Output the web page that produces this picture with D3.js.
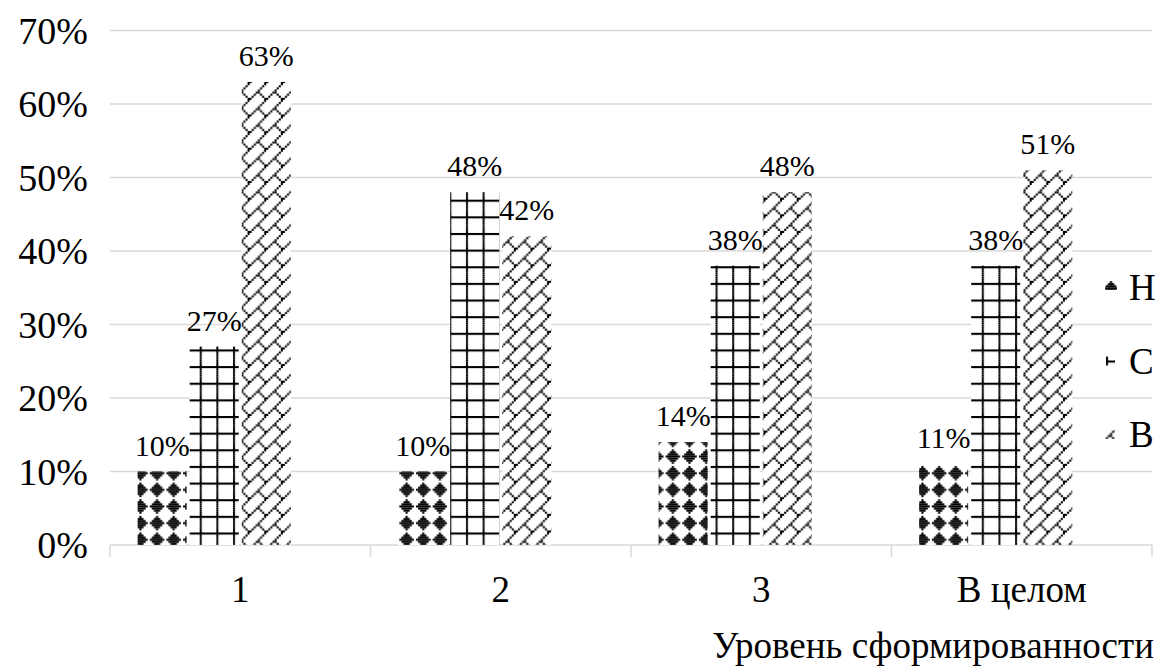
<!DOCTYPE html>
<html><head><meta charset="utf-8">
<script src="https://cdn.jsdelivr.net/npm/d3@7"></script>
<style>
body{margin:0;background:#fff;}
svg text{font-family:"Liberation Serif","Times New Roman",serif !important;fill:#000;}
</style>
</head><body>
<svg id="chart" width="1158" height="668" font-family="Liberation Serif"></svg>
<script>
// ---- data ----
const categories = ["1", "2", "3", "В целом"];
const seriesNames = ["Н", "С", "В"];
const valuesN = [0.10, 0.10, 0.14, 0.11];
const valuesS = [0.27, 0.48, 0.38, 0.38];
const valuesV = [0.63, 0.42, 0.48, 0.51];
const yTicks = [0, 0.1, 0.2, 0.3, 0.4, 0.5, 0.6, 0.7];
const axisTitle = "Уровень сформированности";

const seriesValues = [valuesN, valuesS, valuesV];
const patternIds = ["pN", "pS", "pV"];

// ---- layout ----
const svg = d3.select("#chart");
const L = 110, R = 1152, T = 30.5, B = 545;
const x0 = d3.scaleBand().domain(categories).range([L, R]);
// Excel reserved a fourth (empty) slot in each group
const x1 = d3.scaleBand().domain([...seriesNames, "_slot"]).range([0, x0.bandwidth()])
  .paddingInner(0.058).paddingOuter(0.53);
const y = d3.scaleLinear().domain([0, 0.7]).range([B, T]);
const fmt = d3.format(".0%");

// ---- patterns ----
const s = 2.08, tile = 8 * s;
const defs = svg.append("defs");
function pixelPattern(id, pixels, ox, oy, bg) {
  const p = defs.append("pattern").attr("id", id).attr("patternUnits", "userSpaceOnUse")
    .attr("width", tile).attr("height", tile).attr("x", ox || 0).attr("y", oy || 0);
  p.append("rect").attr("width", tile).attr("height", tile).attr("fill", bg || "#fff");
  p.selectAll("rect.px").data(pixels).join("rect").attr("class", "px")
    .attr("x", d => d[0] * s).attr("y", d => d[1] * s)
    .attr("width", d => (d[2] || 1) * s).attr("height", s).attr("fill", "#000");
  return p;
}
// solid diamond
const diamond = [[3,0,1],[2,1,3],[1,2,5],[0,3,7],[1,4,5],[2,5,3],[3,6,1]];
// large grid
const grid = [[0,0,8],[0,1],[0,2],[0,3],[0,4],[0,5],[0,6],[0,7]];
// diagonal brick (mirrored)
const brick = [[7,0],[6,1],[5,2],[4,3],[3,4],[4,4],[2,5],[5,5],[1,6],[6,6],[0,7],[7,7]];
const pixelSets = [diamond, grid, brick];
pixelSets.forEach((px, i) => pixelPattern(patternIds[i], px));

// ---- gridlines & axis ----
svg.append("g").selectAll("line").data(yTicks.filter(d => d > 0)).join("line")
  .attr("x1", L).attr("x2", R).attr("y1", d => y(d)).attr("y2", d => y(d))
  .attr("stroke", "#d9d9d9").attr("stroke-width", 1.4);

const yAxis = svg.append("g").attr("transform", `translate(${L},0)`)
  .call(d3.axisLeft(y).tickValues(yTicks).tickFormat(fmt).tickSize(0).tickPadding(22));
yAxis.attr("font-family", null);
yAxis.select(".domain").remove();
yAxis.selectAll("text").attr("font-size", 38).attr("dy", "0.34em").attr("fill", "#000");

const xAxis = svg.append("g").attr("transform", `translate(0,${B})`)
  .call(d3.axisBottom(x0).tickSize(0).tickPadding(0));
xAxis.attr("font-family", null);
xAxis.select(".domain").attr("stroke", "#d9d9d9").attr("stroke-width", 1.5)
  .attr("d", `M${L},0H${R}`);
xAxis.selectAll("text").attr("font-size", 37).attr("y", 57).attr("dy", 0).attr("fill", "#000");
svg.append("g").selectAll("line").data([...categories.map(c => x0(c)), R]).join("line")
  .attr("x1", d => d).attr("x2", d => d).attr("y1", B).attr("y2", B + 12)
  .attr("stroke", "#d9d9d9").attr("stroke-width", 1.5);

// ---- bars ----
seriesNames.forEach((name, si) => {
  const g = svg.append("g");
  const data = categories.map((c, ci) => ({c, v: seriesValues[si][ci]}));
  g.selectAll("rect").data(data).join("rect")
    .attr("x", d => x0(d.c) + x1(name)).attr("width", x1.bandwidth())
    .attr("y", d => y(d.v)).attr("height", d => B - y(d.v))
    .attr("fill", `url(#${patternIds[si]})`);
  g.selectAll("text").data(data).join("text")
    .attr("x", d => x0(d.c) + x1(name) + x1.bandwidth() / 2)
    .attr("y", d => y(d.v) - 16)
    .attr("text-anchor", "middle").attr("font-size", 30)
    .text(d => fmt(d.v));
});

// ---- axis title ----
svg.append("text").attr("x", 1154).attr("y", 658).attr("text-anchor", "end")
  .attr("font-size", 37).text(axisTitle);

// ---- legend ----
const legendY = d3.scalePoint().domain(seriesNames).range([288, 435]);
const keyX = 1105;
const keyRects = [[keyX, -7, 12, 9], [keyX + 1, -5, 9, 9], [keyX, -5, 10, 9]];
const keyOrigins = [
  (r, cy) => [r[0] + 6 - 3.5 * s, cy + r[1]],
  (r, cy) => [r[0], cy - 1],
  (r, cy) => [r[0] + 5 - 4 * s, cy - 4 * s]
];
seriesNames.forEach((name, si) => {
  const cy = legendY(name);
  const r = keyRects[si];
  const [ox, oy] = keyOrigins[si](r, cy);
  pixelPattern("k" + si, pixelSets[si], ox, oy, "none");
  svg.append("rect").attr("x", r[0]).attr("y", cy + r[1])
    .attr("width", r[2]).attr("height", r[3]).attr("fill", `url(#k${si})`);
  svg.append("text").attr("x", 1129).attr("y", cy + 12).attr("font-size", 37).text(name);
});
</script>
</body></html>
